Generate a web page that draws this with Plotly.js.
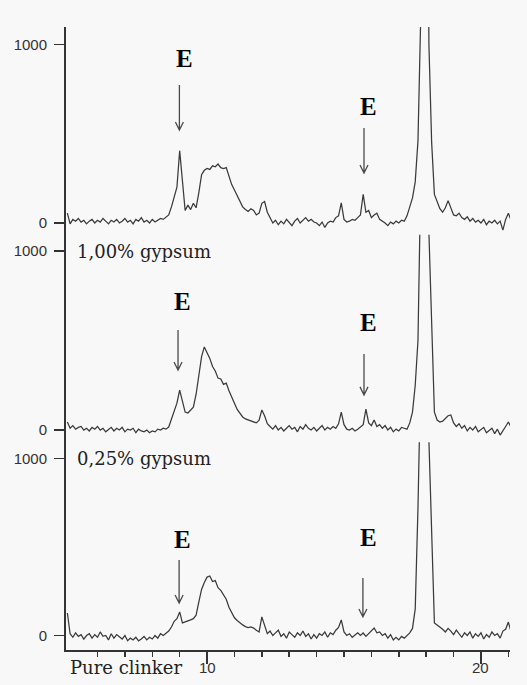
<!DOCTYPE html>
<html>
<head>
<meta charset="utf-8">
<script src="https://cdn.plot.ly/plotly-3.0.1.min.js"></script>
<style>
  html, body { margin: 0; padding: 0; background: #f8f8f8; }
  #chart { width: 527px; height: 685px; }
</style>
</head>
<body>
<div id="chart"></div>
<script>
// Diffraction angle grid shared by the three patterns (degrees 2θ)
const twoThetaStart = 4.9;
const twoThetaStep = 0.1;
const twoThetaCount = 163;

// Intensities (counts), one value per grid angle, rows of ten
const gypsum100 = [
  55, -5, 20, 10, 25, 5, 15, -5, 10, 20,
  0, 15, 5, 25, 10, -5, 15, 5, 20, 0,
  10, 25, 5, 15, -5, 20, 10, 30, 5, 15,
  0, 20, 5, 15, 25, 20, 30, 45, 90, 150,
  200, 405, 250, 70, 100, 75, 110, 85, 170, 270,
  295, 305, 300, 320, 315, 330, 310, 305, 310, 260,
  215, 185, 150, 120, 90, 75, 65, 80, 70, 45,
  55, 110, 120, 60, 30, 0, 15, -10, 10, -5,
  20, 5, -15, 10, 25, 0, 15, 30, 10, 20,
  5, 0, -15, 5, -25, 0, 10, 5, 30, 40,
  112, 20, 5, 10, 20, 15, 30, 45, 160, 60,
  70, 30, 45, 55, 20, 10, 0, -15, 5, -5,
  10, 0, 15, 10, 40, 90, 140, 230, 460, 1150,
  3000, 3000, 1000, 450, 160, 120, 80, 60, 85, 125,
  80, 45, 40, 55, 30, 20, 35, 10, 25, 5,
  15, 0, 20, -10, 10, 0, 15, -5, 10, -40,
  20, 55, 15
];

const gypsum025 = [
  45, 10, 25, 5, 15, 20, 0, 10, -5, 15,
  5, 20, 0, 10, -10, 5, 15, -5, 10, 0,
  15, -10, 5, 0, 10, -15, 5, -5, -10, 0,
  -15, -5, -10, 5, 0, 10, 5, 17, 60, 100,
  150, 223, 160, 100, 95, 110, 128, 200, 300, 410,
  464, 430, 400, 355, 330, 290, 285, 255, 262, 220,
  180, 150, 115, 95, 73, 62, 56, 50, 45, 40,
  55, 112, 80, 35, 20, 5, 25, 0, 15, -5,
  10, 25, 5, 15, -10, 20, 5, 30, 10, 0,
  15, -5, 10, 25, 0, 15, 5, 20, 10, 35,
  100, 30, 5, 0, 10, -5, 5, 20, 30, 117,
  40, 25, 56, 20, 30, 10, 25, 0, 15, -10,
  5, -5, 15, 10, 5, 40, 100, 250, 500, 1400,
  3000, 3000, 1100, 560, 100, 56, 45, 50, 65, 80,
  84, 40, 20, 35, 10, 25, -5, 15, 0, 20,
  -10, 5, 15, -15, 0, 10, -20, 5, -28, 0,
  20, 45, 15
];

const pureClinker = [
  127, 10, -10, 15, -5, 5, -20, 0, 10, -15,
  5, -10, 20, -5, 0, -25, 10, -15, 5, -10,
  -20, 0, -30, -15, -25, -10, -30, -20, -5, -25,
  -10, -20, 0, -15, 10, 0, 14, 25, 48, 80,
  95, 133, 71, 76, 80, 88, 95, 115, 190, 260,
  300, 330, 336, 305, 310, 270, 255, 230, 205, 160,
  130, 100, 85, 71, 60, 50, 45, 48, 42, 30,
  20, 105, 50, 10, 25, 0, 15, 30, -5, 10,
  -15, 20, 5, -10, 15, 0, 25, -5, 10, -20,
  5, -15, 10, 0, 20, -10, 15, 5, 30, 45,
  88, 20, 0, 10, -10, 5, 15, 0, 14, -5,
  10, 25, 42, 15, 20, 0, 10, -15, 5, -25,
  -10, -25, -5, -15, 0, 15, 40, 150, 720, 1400,
  3000, 3000, 1100, 540, 71, 59, 48, 35, 20, 40,
  25, 5, 30, 10, -10, 15, 0, 20, -15, 10,
  -5, 15, -20, 5, -10, 20, 0, 10, -15, 25,
  35, 76, 20
];

// Sample names, from the top pattern down
const sampleLabels = ['1,00% gypsum', '0,25% gypsum', 'Pure clinker'];

// Ettringite marker positions: [2θ of arrow, arrow top, arrow tip, label 2θ, label height]
const ettringiteTop = [[8.99, 773, 521, 9.16, 919], [15.73, 532, 280, 15.88, 650]];
const ettringiteMid = [[8.94, 559, 335, 9.12, 715], [15.73, 425, 196, 15.88, 598]];
const ettringiteLow = [[8.98, 427, 184, 9.12, 540], [15.69, 325, 105, 15.88, 551]];

const yTickVals = [0, 1000];
const xTickVals = [10, 20];
const xMinorTicks = [6, 7, 8, 9, 11, 12, 13, 14, 15, 16, 17, 18, 19, 21];

const twoTheta = [];
for (let i = 0; i < twoThetaCount; i++) {
  twoTheta.push(Math.round((twoThetaStart + i * twoThetaStep) * 10) / 10);
}

const ink = '#333333';
const traceLine = { color: '#3a3a3a', width: 1.25 };
const sansFont = 'Liberation Sans, Arial, sans-serif';
const serifFont = 'DejaVu Serif, Liberation Serif, serif';
const markFont = 'Liberation Serif, Times New Roman, serif';

const traces = [
  { x: twoTheta, y: gypsum100, xaxis: 'x', yaxis: 'y3', mode: 'lines', line: traceLine, hoverinfo: 'skip' },
  { x: twoTheta, y: gypsum025, xaxis: 'x', yaxis: 'y2', mode: 'lines', line: traceLine, hoverinfo: 'skip' },
  { x: twoTheta, y: pureClinker, xaxis: 'x', yaxis: 'y', mode: 'lines', line: traceLine, hoverinfo: 'skip' }
];

function yAxis(domain, range) {
  return {
    domain: domain,
    range: range,
    anchor: 'x',
    showline: true,
    linecolor: ink,
    linewidth: 2,
    ticks: 'outside',
    ticklen: 10,
    tickwidth: 1.5,
    tickcolor: ink,
    tickvals: yTickVals,
    ticktext: yTickVals.map(String),
    tickfont: { family: sansFont, size: 15, color: '#333' },
    ticklabelstandoff: 4,
    showgrid: false,
    zeroline: false,
    fixedrange: true
  };
}

const shapes = [];
const annotations = [];

function addMarkers(list, yref) {
  const headDx = 0.146;
  const headDy = 45;
  list.forEach(m => {
    const [ax, y0, y1, tx, ty] = m;
    shapes.push({
      type: 'path', xref: 'x', yref: yref,
      path: `M ${ax},${y0} L ${ax},${y1} M ${ax - headDx},${y1 + headDy} L ${ax},${y1} L ${ax + headDx},${y1 + headDy}`,
      line: { color: '#4a4a4a', width: 1.3 }
    });
    annotations.push({
      xref: 'x', yref: yref, x: tx, y: ty, text: '<b>E</b>', showarrow: false,
      xanchor: 'center', yanchor: 'middle',
      font: { family: markFont, size: 25, color: '#000' }
    });
  });
}
addMarkers(ettringiteTop, 'y3');
addMarkers(ettringiteMid, 'y2');
addMarkers(ettringiteLow, 'y');

const labelPos = [[0.02, 0.6404], [0.02, 0.308], [0.004, -0.0275]];
sampleLabels.forEach((txt, i) => {
  annotations.push({
    xref: 'paper', yref: 'paper', x: labelPos[i][0], y: labelPos[i][1],
    text: txt, showarrow: false, xanchor: 'left', yanchor: 'middle',
    font: { family: serifFont, size: 18, color: '#222' }
  });
});

// 2θ tick labels sit tight under the long tick marks
xTickVals.forEach(v => {
  annotations.push({
    xref: 'x', yref: 'paper', x: v, y: -0.0275, text: String(v), showarrow: false,
    xanchor: 'center', yanchor: 'middle',
    font: { family: sansFont, size: 15, color: '#333' }
  });
});

const layout = {
  width: 527,
  height: 685,
  margin: { l: 66, r: 17, t: 27, b: 35 },
  paper_bgcolor: '#f8f8f8',
  plot_bgcolor: '#f8f8f8',
  showlegend: false,
  xaxis: {
    domain: [0, 1],
    range: [4.85, 21.06],
    anchor: 'y',
    showline: true,
    linecolor: ink,
    linewidth: 2,
    ticks: 'outside',
    ticklen: 12,
    tickwidth: 1.5,
    tickcolor: ink,
    tickvals: xTickVals,
    showticklabels: false,
    minor: { tickvals: xMinorTicks, ticks: 'outside', ticklen: 5, tickwidth: 1.5, tickcolor: ink, showgrid: false },
    showgrid: false,
    zeroline: false,
    fixedrange: true
  },
  yaxis: yAxis([0, 0.3333], [-82, 1091.5]),
  yaxis2: yAxis([0.3333, 0.6667], [-68.7, 1091]),
  yaxis3: yAxis([0.6667, 1], [-65.5, 1098]),
  shapes: shapes,
  annotations: annotations
};

Plotly.newPlot('chart', traces, layout, { staticPlot: true, displayModeBar: false });
</script>
</body>
</html>
